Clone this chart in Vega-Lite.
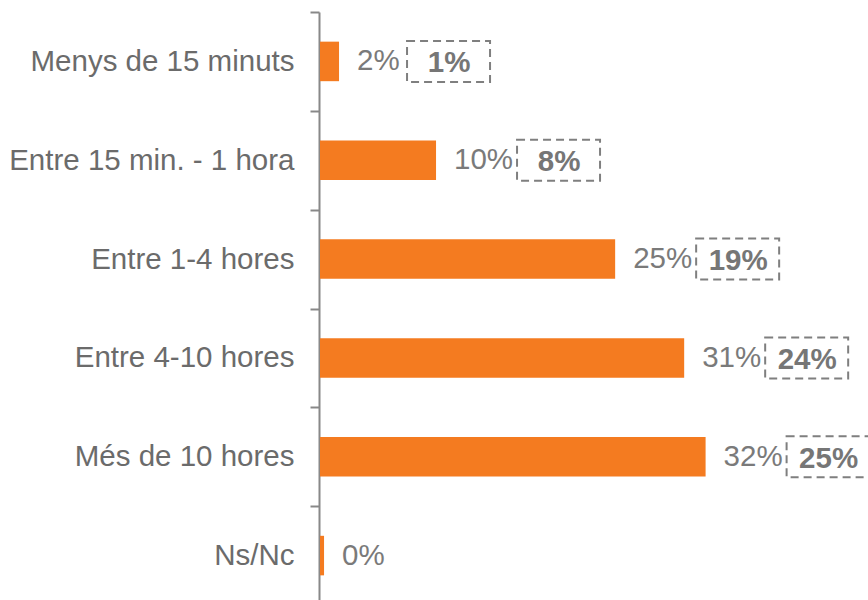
{
  "$schema": "https://vega.github.io/schema/vega-lite/v6.json",
  "autosize": "none",
  "width": 549,
  "height": 588,
  "padding": {"left": 319, "top": 12, "right": 0, "bottom": 0},
  "background": "white",
  "config": {"view": {"stroke": null}, "font": "Liberation Sans"},
  "data": {
    "values": [
      {"cat": "Menys de 15 minuts", "value": 1.6, "label": "2%", "prev": "1%"},
      {"cat": "Entre 15 min. - 1 hora", "value": 9.75, "label": "10%", "prev": "8%"},
      {"cat": "Entre 1-4 hores", "value": 24.8, "label": "25%", "prev": "19%"},
      {"cat": "Entre 4-10 hores", "value": 30.6, "label": "31%", "prev": "24%"},
      {"cat": "Més de 10 hores", "value": 32.4, "label": "32%", "prev": "25%"},
      {"cat": "Ns/Nc", "value": 0.34, "label": "0%", "prev": null}
    ]
  },
  "encoding": {
    "y": {
      "field": "cat",
      "type": "nominal",
      "sort": null,
      "scale": {"paddingInner": 0, "paddingOuter": 0, "range": [0, 593]},
      "axis": {
        "title": null,
        "tickBand": "extent",
        "labelFontSize": 29.5,
        "labelColor": "#6b6b6b",
        "labelFont": "Liberation Sans",
        "labelLimit": 400,
        "labelPadding": 16,
        "tickSize": 9,
        "tickWidth": 2,
        "tickColor": "#888888",
        "domainColor": "#888888",
        "domainWidth": 2
      }
    }
  },
  "layer": [
    {
      "mark": {"type": "bar", "color": "#F47B20", "xOffset": 1, "height": {"band": 0.4}},
      "encoding": {
        "x": {"field": "value", "type": "quantitative", "scale": {"domain": [0, 46.13], "nice": false, "zero": true}, "axis": null}
      }
    },
    {
      "mark": {"type": "text", "align": "left", "baseline": "middle", "dx": 19, "fontSize": 29.5, "color": "#7a7a7a", "font": "Liberation Sans"},
      "encoding": {
        "x": {"field": "value", "type": "quantitative"},
        "text": {"field": "label"}
      }
    },
    {
      "transform": [{"filter": "isValid(datum.prev) && length(datum.label) >= 3"}],
      "layer": [
        {
          "mark": {"type": "rect", "fill": null, "stroke": "#7f7f7f", "strokeWidth": 2, "strokeDash": [8, 5], "xOffset": 82, "x2Offset": 165, "height": {"band": 0.415}},
          "encoding": {
            "x": {"field": "value", "type": "quantitative"},
            "x2": {"field": "value"}
          }
        },
        {
          "mark": {"type": "text", "align": "center", "baseline": "middle", "dx": 124, "dy": 2, "fontSize": 29.5, "fontWeight": "bold", "color": "#767676", "font": "Liberation Sans"},
          "encoding": {
            "x": {"field": "value", "type": "quantitative"},
            "text": {"field": "prev"}
          }
        }
      ]
    },
    {
      "transform": [{"filter": "isValid(datum.prev) && length(datum.label) < 3"}],
      "layer": [
        {
          "mark": {"type": "rect", "fill": null, "stroke": "#7f7f7f", "strokeWidth": 2, "strokeDash": [8, 5], "xOffset": 69, "x2Offset": 152, "height": {"band": 0.415}},
          "encoding": {
            "x": {"field": "value", "type": "quantitative"},
            "x2": {"field": "value"}
          }
        },
        {
          "mark": {"type": "text", "align": "center", "baseline": "middle", "dx": 111, "dy": 2, "fontSize": 29.5, "fontWeight": "bold", "color": "#767676", "font": "Liberation Sans"},
          "encoding": {
            "x": {"field": "value", "type": "quantitative"},
            "text": {"field": "prev"}
          }
        }
      ]
    }
  ]
}
